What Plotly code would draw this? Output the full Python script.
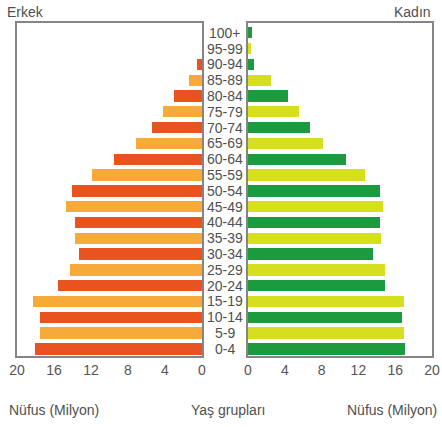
import plotly.graph_objects as go

age_groups = ["0-4", "5-9", "10-14", "15-19", "20-24", "25-29", "30-34", "35-39",
              "40-44", "45-49", "50-54", "55-59", "60-64", "65-69", "70-74",
              "75-79", "80-84", "85-89", "90-94", "95-99", "100+"]
male = [18.1, 17.5, 17.5, 18.3, 15.6, 14.3, 13.3, 13.7, 13.7, 14.7, 14.1,
        11.9, 9.5, 7.1, 5.4, 4.2, 3.0, 1.4, 0.55, 0.0, 0.0]
female = [17.1, 16.95, 16.7, 16.95, 14.9, 14.9, 13.6, 14.5, 14.3, 14.7, 14.3,
          12.75, 10.7, 8.15, 6.7, 5.5, 4.35, 2.5, 0.7, 0.3, 0.4]
x_ticks = [0, 4, 8, 12, 16, 20]

male_dark, male_light = "#E9531F", "#F7AA3A"
fem_dark, fem_light = "#1B9A3E", "#D5DF1E"

idx = list(range(len(age_groups)))
male_colors = [male_dark if i % 2 == 0 else male_light for i in idx]
fem_colors = [fem_dark if i % 2 == 0 else fem_light for i in idx]

fig = go.Figure()
fig.add_trace(go.Bar(x=male, y=idx, orientation="h", marker=dict(color=male_colors, line=dict(width=0)),
                     width=0.72, xaxis="x", yaxis="y", showlegend=False))
fig.add_trace(go.Bar(x=female, y=idx, orientation="h", marker=dict(color=fem_colors, line=dict(width=0)),
                     width=0.72, xaxis="x2", yaxis="y2", showlegend=False))

font_col = "#555555"
axis_common = dict(tickvals=x_ticks, ticktext=[str(t) for t in x_ticks],
                   showgrid=False, zeroline=False, showline=True, linecolor="#858585",
                   linewidth=1.8, mirror=True, ticks="", ticklen=0, automargin=False,
                   tickfont=dict(size=14, color=font_col, family="Liberation Sans"))
yax_common = dict(range=[-0.45, 20.62], showgrid=False, zeroline=False, showline=True,
                  linecolor="#858585", linewidth=1.8, mirror=True, showticklabels=False,
                  ticks="", automargin=False, domain=[0.1663, 0.946])

fig.update_layout(
    width=442, height=427,
    margin=dict(l=0, r=0, t=0, b=0, autoexpand=False),
    paper_bgcolor="white", plot_bgcolor="white",
    bargap=0,
    xaxis=dict(domain=[17/442, 202/442], range=[20, 0], **axis_common),
    xaxis2=dict(domain=[248/442, 432/442], range=[0, 20], anchor="y2", **axis_common),
    yaxis=dict(anchor="x", **yax_common),
    yaxis2=dict(anchor="x2", **yax_common),
    font=dict(family="Liberation Sans", color=font_col),
)

annotations = []
for i, g in enumerate(age_groups):
    annotations.append(dict(x=225/442, y=i, xref="paper", yref="y", text=g, showarrow=False,
                            font=dict(size=14, color="#505050"), xanchor="center", yanchor="middle"))
annotations += [
    dict(x=5/442, y=1 - 12/427, xref="paper", yref="paper", text="Erkek", showarrow=False,
         xanchor="left", yanchor="middle", font=dict(size=14, color="#505050")),
    dict(x=433/442, y=1 - 12/427, xref="paper", yref="paper", text="Kadın", showarrow=False,
         xanchor="right", yanchor="middle", font=dict(size=14, color="#505050")),
    dict(x=54/442, y=1 - 410/427, xref="paper", yref="paper", text="Nüfus (Milyon)", showarrow=False,
         xanchor="center", yanchor="middle", font=dict(size=14, color="#505050")),
    dict(x=228/442, y=1 - 410/427, xref="paper", yref="paper", text="Yaş grupları", showarrow=False,
         xanchor="center", yanchor="middle", font=dict(size=14, color="#505050")),
    dict(x=392/442, y=1 - 410/427, xref="paper", yref="paper", text="Nüfus (Milyon)", showarrow=False,
         xanchor="center", yanchor="middle", font=dict(size=14, color="#505050")),
]
fig.update_layout(annotations=annotations)

fig.write_html("out.html", config={"displayModeBar": False},
               post_script="document.body.style.margin='0';document.body.style.overflow='hidden';")
